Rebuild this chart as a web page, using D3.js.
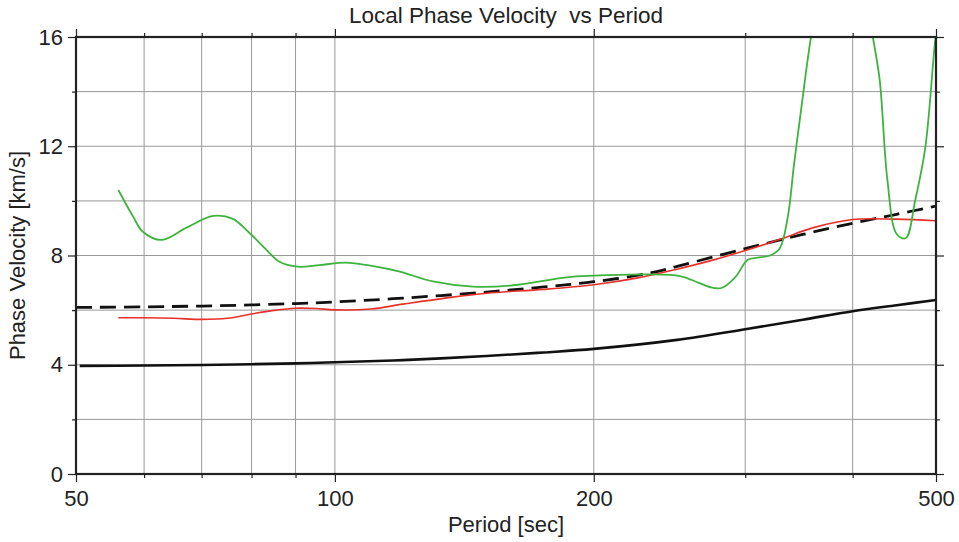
<!DOCTYPE html>
<html>
<head>
<meta charset="utf-8">
<script src="https://cdn.jsdelivr.net/npm/d3@7"></script>
<style>
  body { margin: 0; background: #fff; }
  svg { display: block; font-family: "Liberation Sans", Arial, Helvetica, sans-serif; }
  .axis path { display: none; }
  .axis line { stroke: #222; stroke-width: 1.2; }
  .axis text { font-size: 22px; fill: #222; }
</style>
</head>
<body>
<div id="chart"></div>
<script>
// reference model, solid black
let ref_period = [50.5, 60, 70, 80, 90, 100, 120, 150, 175, 200, 250, 300, 350, 400, 450, 500];
let ref_vel    = [3.96, 3.97, 3.99, 4.02, 4.05, 4.09, 4.17, 4.32, 4.45, 4.58, 4.91, 5.30, 5.65, 5.96, 6.18, 6.37];

// dashed black
let avg_period = [50, 60, 70, 80, 90, 100, 120, 150, 175, 200, 232, 252, 300, 350, 400, 450, 500];
let avg_vel    = [6.10, 6.12, 6.15, 6.19, 6.24, 6.30, 6.44, 6.66, 6.85, 7.04, 7.35, 7.63, 8.25, 8.77, 9.18, 9.51, 9.81];

// red
let red_period = [56, 60, 65, 70, 75, 80, 85, 90, 95, 100, 110, 120, 135, 150, 175, 200, 225, 250, 275, 300, 330, 360, 400, 450, 500];
let red_vel    = [5.72, 5.72, 5.70, 5.66, 5.70, 5.86, 5.99, 6.07, 6.06, 6.01, 6.04, 6.22, 6.45, 6.62, 6.76, 6.93, 7.18, 7.50, 7.83, 8.18, 8.60, 9.02, 9.32, 9.33, 9.27];

// green
let green_period = [56, 58.2, 59.8, 62.9, 67.3, 72.2, 76, 79.3, 83.3, 86.2, 90.5, 96, 103, 110, 119, 130, 144.7, 160, 186, 200, 226, 246, 254, 265, 275, 282, 292, 302, 310, 320, 329, 336, 342, 350, 355, 360, 372, 410, 421.7, 430, 439, 450, 461, 473, 486, 499, 502];
let green_vel    = [10.40, 9.45, 8.87, 8.57, 9.03, 9.45, 9.35, 8.87, 8.20, 7.77, 7.59, 7.65, 7.74, 7.63, 7.41, 7.05, 6.86, 6.90, 7.20, 7.26, 7.31, 7.29, 7.22, 7.00, 6.82, 6.82, 7.20, 7.84, 7.92, 7.99, 8.26, 9.36, 11.37, 13.81, 15.28, 16.5, 18.5, 18.5, 16.1, 14.43, 10.76, 8.79, 8.63, 10.03, 11.98, 15.89, 16.4];

let x_major = [50, 100, 200, 500];
let x_minor = [60, 70, 80, 90, 300, 400];
let y_major = [0, 4, 8, 12, 16];
let y_minor = [2, 6, 10, 14];

let width = 959;
let height = 542;
let margin = ({top: 37, right: 23, bottom: 68, left: 76});

let x_scale = d3.scaleLog()
                .domain([50, 500])
                .range([margin.left, width - margin.right]);

let y_scale = d3.scaleLinear()
                .domain([0, 16])
                .range([height - margin.bottom, margin.top]);

let svg = d3.select("#chart").append("svg")
            .attr("width", width)
            .attr("height", height);

svg.append("defs").append("clipPath")
   .attr("id", "plot_clip")
   .append("rect")
   .attr("x", margin.left)
   .attr("y", margin.top)
   .attr("width", width - margin.left - margin.right)
   .attr("height", height - margin.top - margin.bottom);

// grid
let grid = svg.append("g").attr("stroke", "#999").attr("stroke-width", 1);
grid.selectAll("line.v")
    .data(x_major.concat(x_minor))
    .join("line")
    .attr("x1", d => x_scale(d)).attr("x2", d => x_scale(d))
    .attr("y1", margin.top).attr("y2", height - margin.bottom);
grid.selectAll("line.h")
    .data(y_major.concat(y_minor))
    .join("line")
    .attr("x1", margin.left).attr("x2", width - margin.right)
    .attr("y1", d => y_scale(d)).attr("y2", d => y_scale(d));

// ticks
let fmt = d3.format("d");
let bottom_y = height - margin.bottom;
let right_x = width - margin.right;

svg.append("g").attr("class", "axis").attr("transform", `translate(0,${bottom_y})`)
   .call(d3.axisBottom(x_scale).tickValues(x_major).tickSize(8).tickPadding(8).tickFormat(fmt));
svg.append("g").attr("class", "axis").attr("transform", `translate(0,${bottom_y})`)
   .call(d3.axisBottom(x_scale).tickValues(x_minor).tickSize(4).tickFormat(""));
svg.append("g").attr("class", "axis").attr("transform", `translate(0,${margin.top})`)
   .call(d3.axisTop(x_scale).tickValues(x_major).tickSize(8).tickFormat(""));
svg.append("g").attr("class", "axis").attr("transform", `translate(0,${margin.top})`)
   .call(d3.axisTop(x_scale).tickValues(x_minor).tickSize(4).tickFormat(""));

svg.append("g").attr("class", "axis").attr("transform", `translate(${margin.left},0)`)
   .call(d3.axisLeft(y_scale).tickValues(y_major).tickSize(8).tickPadding(5).tickFormat(fmt));
svg.append("g").attr("class", "axis").attr("transform", `translate(${margin.left},0)`)
   .call(d3.axisLeft(y_scale).tickValues(y_minor).tickSize(4).tickFormat(""));
svg.append("g").attr("class", "axis").attr("transform", `translate(${right_x},0)`)
   .call(d3.axisRight(y_scale).tickValues(y_major).tickSize(8).tickFormat(""));
svg.append("g").attr("class", "axis").attr("transform", `translate(${right_x},0)`)
   .call(d3.axisRight(y_scale).tickValues(y_minor).tickSize(4).tickFormat(""));

// curves
let line = d3.line()
             .x(d => x_scale(d[0]))
             .y(d => y_scale(d[1]))
             .curve(d3.curveCatmullRom.alpha(0.5));

let series = [
    {p: ref_period,   v: ref_vel,   color: "#111",    w: 2.6, dash: null},
    {p: avg_period,   v: avg_vel,   color: "#111",    w: 2.8, dash: "16,8"},
    {p: red_period,   v: red_vel,   color: "#e8302a", w: 1.6, dash: null},
    {p: green_period, v: green_vel, color: "#3db43d", w: 1.8, dash: null}
];

svg.append("g")
   .attr("clip-path", "url(#plot_clip)")
   .selectAll("path")
   .data(series)
   .join("path")
   .attr("d", s => line(s.p.map((p, i) => [p, s.v[i]])))
   .attr("fill", "none")
   .attr("stroke", s => s.color)
   .attr("stroke-width", s => s.w)
   .attr("stroke-dasharray", s => s.dash)
   .attr("stroke-linejoin", "round");

// frame
svg.append("rect")
   .attr("x", margin.left)
   .attr("y", margin.top)
   .attr("width", width - margin.left - margin.right)
   .attr("height", height - margin.top - margin.bottom)
   .attr("fill", "none")
   .attr("stroke", "#222")
   .attr("stroke-width", 2.2);

// labels
svg.append("text")
   .attr("x", (margin.left + right_x) / 2)
   .attr("y", 23)
   .attr("text-anchor", "middle")
   .attr("font-size", 22.5)
   .attr("fill", "#222")
   .style("white-space", "pre")
   .text("Local Phase Velocity  vs Period");

svg.append("text")
   .attr("x", (margin.left + right_x) / 2)
   .attr("y", 532)
   .attr("text-anchor", "middle")
   .attr("font-size", 22)
   .attr("fill", "#222")
   .text("Period [sec]");

svg.append("text")
   .attr("transform", `translate(25,${(margin.top + bottom_y) / 2}) rotate(-90)`)
   .attr("text-anchor", "middle")
   .attr("font-size", 22)
   .attr("fill", "#222")
   .text("Phase Velocity [km/s]");
</script>
</body>
</html>
